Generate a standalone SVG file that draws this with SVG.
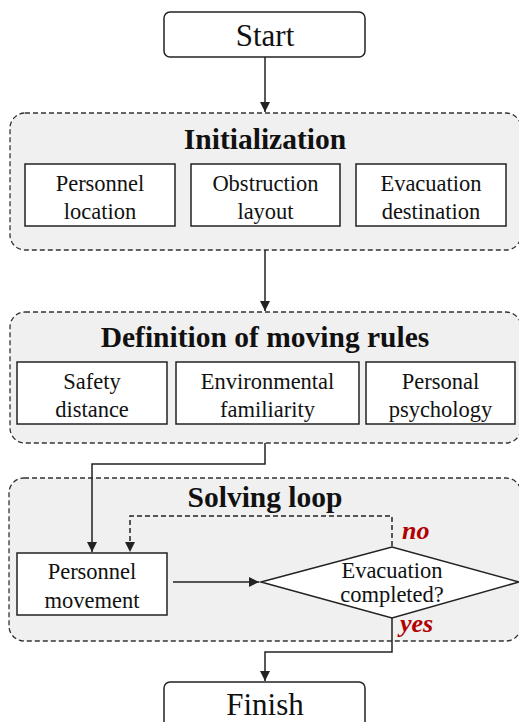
<svg xmlns="http://www.w3.org/2000/svg" width="519" height="722" viewBox="0 0 519 722">
<defs>
<style>
.grp{fill:#f0f0f0;stroke:#333;stroke-width:1.3;stroke-dasharray:5,3}
.box{fill:#fff;stroke:#222;stroke-width:1.5}
text{font-family:"Liberation Serif","Times New Roman","DejaVu Serif",Times,serif}
.t{font-size:22.5px;fill:#111;text-anchor:middle}
.big{font-size:31px}
.title{font-size:29.5px;font-weight:bold;fill:#111;text-anchor:middle}
.lbl{font-size:26px;font-weight:bold;font-style:italic;fill:#b00000}
.ln{fill:none;stroke:#222;stroke-width:1.5}
.dash{stroke-dasharray:5,3}
</style>
<marker id="ah" viewBox="0 0 10 10" refX="10" refY="5" markerWidth="10" markerHeight="10" markerUnits="userSpaceOnUse" orient="auto">
<path d="M0,0 L10,5 L0,10 z" fill="#222"/>
</marker>
</defs>
<rect width="519" height="722" fill="#fff"/>

<g id="start">
<rect class="box" x="164" y="12" width="201" height="45" rx="6"/>
<text class="t big" x="265" y="46">Start</text>
</g>

<g id="initialization">
<rect class="grp" x="10" y="113" width="511" height="137" rx="15"/>
<text class="title" x="265" y="149">Initialization</text>
<g id="personnel-location">
<rect class="box" x="25" y="164" width="150" height="62"/>
<text class="t" x="100" y="191">Personnel</text>
<text class="t" x="100" y="219">location</text>
</g>
<g id="obstruction-layout">
<rect class="box" x="191" y="164" width="149" height="62"/>
<text class="t" x="265.5" y="191">Obstruction</text>
<text class="t" x="265.5" y="219">layout</text>
</g>
<g id="evacuation-destination">
<rect class="box" x="356" y="164" width="150" height="62"/>
<text class="t" x="431" y="191">Evacuation</text>
<text class="t" x="431" y="219">destination</text>
</g>
</g>

<g id="moving-rules">
<rect class="grp" x="10" y="312" width="511" height="131" rx="15"/>
<text class="title" x="265" y="347">Definition of moving rules</text>
<g id="safety-distance">
<rect class="box" x="17" y="362" width="150" height="62"/>
<text class="t" x="92" y="389">Safety</text>
<text class="t" x="92" y="417">distance</text>
</g>
<g id="environmental-familiarity">
<rect class="box" x="176" y="362" width="183" height="62"/>
<text class="t" x="267.5" y="389">Environmental</text>
<text class="t" x="267.5" y="417">familiarity</text>
</g>
<g id="personal-psychology">
<rect class="box" x="366" y="362" width="149" height="62"/>
<text class="t" x="440.5" y="389">Personal</text>
<text class="t" x="440.5" y="417">psychology</text>
</g>
</g>

<g id="solving-loop">
<rect class="grp" x="9" y="478" width="512" height="163" rx="15"/>
<text class="title" x="265" y="507">Solving loop</text>
<g id="personnel-movement">
<rect class="box" x="17" y="553" width="150" height="62"/>
<text class="t" x="92" y="579">Personnel</text>
<text class="t" x="92" y="608">movement</text>
</g>
<g id="evacuation-completed">
<polygon class="box" points="261,582 392,547 519,582 392,618"/>
<text class="t" x="392" y="578">Evacuation</text>
<text class="t" x="392" y="602">completed?</text>
</g>
</g>

<g id="finish">
<rect class="box" x="164" y="682" width="201" height="60" rx="6"/>
<text class="t big" x="265" y="715">Finish</text>
</g>

<g id="connectors">
<path class="ln" d="M265,57 V112" marker-end="url(#ah)"/>
<path class="ln" d="M265,250 V311" marker-end="url(#ah)"/>
<path class="ln" d="M265,443 V464 H92 V552" marker-end="url(#ah)"/>
<path class="ln dash" d="M392,546 V516 H130 V552" marker-end="url(#ah)"/>
<path class="ln" d="M173,582 H259" marker-end="url(#ah)"/>
<path class="ln" d="M392,618 V652 H265 V681" marker-end="url(#ah)"/>
<text class="lbl" x="402" y="539">no</text>
<text class="lbl" x="400" y="632">yes</text>
</g>
</svg>
